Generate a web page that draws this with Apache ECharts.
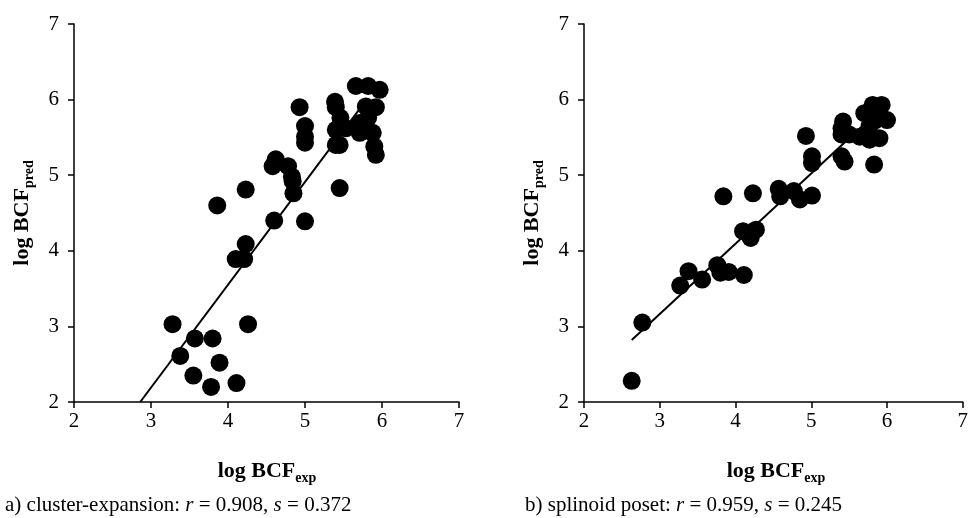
<!DOCTYPE html>
<html><head><meta charset="utf-8">
<script src="https://cdn.jsdelivr.net/npm/echarts@6/dist/echarts.min.js"></script>
<style>html,body{margin:0;padding:0;background:#fff}#c{width:971px;height:518px}</style>
</head><body><div id="c"></div>
<script>
// ---- data ----
const axisMin = 2, axisMax = 7, axisStep = 1;
const xTitle = 'log BCF', xSub = 'exp';
const yTitle = 'log BCF', ySub = 'pred';
const captionA = ['a) cluster-expansion: ', 'r', ' = 0.908, ', 's', ' = 0.372'];
const captionB = ['b) splinoid poset: ', 'r', ' = 0.959, ', 's', ' = 0.245'];

const pointsA = [
  [3.28,3.03],[3.57,2.84],[3.80,2.84],[3.38,2.61],[3.89,2.52],[3.55,2.35],[3.78,2.20],[4.11,2.25],
  [4.26,3.03],[4.10,3.89],[4.21,3.89],[4.23,4.09],[3.86,4.60],[4.23,4.81],[4.60,4.40],[5.00,4.39],
  [5.45,4.83],[4.85,4.76],[4.84,4.92],[4.83,4.98],[4.78,5.12],[4.62,5.21],[4.58,5.12],[5.00,5.43],
  [5.00,5.51],[5.00,5.65],[4.93,5.90],[5.39,5.97],[5.40,5.90],[5.40,5.40],[5.45,5.40],[5.40,5.60],
  [5.46,5.76],[5.53,5.62],[5.66,6.18],[5.82,6.18],[5.97,6.13],[5.92,5.90],[5.79,5.91],[5.82,5.76],
  [5.88,5.56],[5.71,5.56],[5.90,5.38],[5.92,5.27],[5.75,5.65],[5.71,5.69]
];
const fitA = [[2.86,2.00],[5.80,6.00]];

const pointsB = [
  [2.63,2.28],[2.77,3.05],[3.27,3.54],[3.38,3.73],[3.56,3.62],[3.76,3.81],[3.80,3.71],[3.91,3.72],
  [4.11,3.68],[3.84,4.72],[4.23,4.76],[4.10,4.26],[4.20,4.17],[4.27,4.28],[4.57,4.82],[4.59,4.72],
  [4.77,4.79],[4.85,4.68],[5.01,4.73],[4.93,5.52],[5.01,5.25],[5.01,5.16],[5.40,5.25],[5.44,5.18],
  [5.83,5.14],[5.42,5.71],[5.40,5.62],[5.40,5.54],[5.50,5.54],[5.64,5.51],[5.77,5.47],[5.90,5.49],
  [5.70,5.82],[5.81,5.93],[5.93,5.93],[6.00,5.73],[5.85,5.73],[5.77,5.65]
];
const fitB = [[2.63,2.82],[5.75,5.72]];

// ---- chart ----
const FONT = 'Liberation Serif';
const axisLineStyle = {color:'#000', width:1.5};
function xAxisCfg(gi){
  return {gridIndex:gi, type:'value', min:axisMin, max:axisMax, interval:axisStep,
    axisLine:{show:true, onZero:false, lineStyle:axisLineStyle},
    axisTick:{show:true, inside:false, length:6, lineStyle:axisLineStyle},
    splitLine:{show:false},
    axisLabel:{fontFamily:FONT, fontSize:21, color:'#000', margin:9}};
}
function yAxisCfg(gi){
  return {gridIndex:gi, type:'value', min:axisMin, max:axisMax, interval:axisStep,
    axisLine:{show:true, onZero:false, lineStyle:axisLineStyle},
    axisTick:{show:true, inside:false, length:6, lineStyle:axisLineStyle},
    splitLine:{show:false},
    axisLabel:{fontFamily:FONT, fontSize:21, color:'#000', margin:15}};
}
const titleRich = {
  m:{fontFamily:FONT, fontSize:22, fontWeight:'bold', color:'#000', lineHeight:24},
  s:{fontFamily:FONT, fontSize:14, fontWeight:'bold', color:'#000', padding:[14,0,0,0]}
};
const capRich = {
  n:{fontFamily:FONT, fontSize:21, color:'#000'},
  i:{fontFamily:FONT, fontSize:21, fontStyle:'italic', color:'#000'}
};
function capText(parts){
  return parts.map((p,k)=> (k===1||k===3) ? '{i|'+p+'}' : '{n|'+p+'}').join('');
}
function titleText(main, sub){ return '{m|'+main+'}{s|'+sub+'}'; }

const chart = echarts.init(document.getElementById('c'), null, {renderer:'canvas'});
chart.setOption({
  animation:false,
  backgroundColor:'#fff',
  grid:[
    {left:74, top:24, width:385, height:378},
    {left:584, top:24, width:384, height:378}
  ],
  xAxis:[xAxisCfg(0), xAxisCfg(1)],
  yAxis:[yAxisCfg(0), yAxisCfg(1)],
  series:[
    {type:'line', xAxisIndex:0, yAxisIndex:0, data:fitA, showSymbol:false, symbol:'none',
      lineStyle:{color:'#000', width:2}, z:1},
    {type:'scatter', xAxisIndex:0, yAxisIndex:0, data:pointsA, symbol:'circle', symbolSize:18,
      itemStyle:{color:'#000', opacity:1}, z:2},
    {type:'line', xAxisIndex:1, yAxisIndex:1, data:fitB, showSymbol:false, symbol:'none',
      lineStyle:{color:'#000', width:2}, z:1},
    {type:'scatter', xAxisIndex:1, yAxisIndex:1, data:pointsB, symbol:'circle', symbolSize:18,
      itemStyle:{color:'#000', opacity:1}, z:2}
  ],
  graphic:[
    {type:'text', x:267, y:471, style:{text:titleText(xTitle,xSub), rich:titleRich, align:'center', verticalAlign:'middle'}},
    {type:'text', x:776, y:471, style:{text:titleText(xTitle,xSub), rich:titleRich, align:'center', verticalAlign:'middle'}},
    {type:'text', x:22, y:213, rotation:Math.PI/2, style:{text:titleText(yTitle,ySub), rich:titleRich, align:'center', verticalAlign:'middle'}},
    {type:'text', x:532, y:213, rotation:Math.PI/2, style:{text:titleText(yTitle,ySub), rich:titleRich, align:'center', verticalAlign:'middle'}},
    {type:'text', x:5, y:505, style:{text:capText(captionA), rich:capRich, align:'left', verticalAlign:'middle'}},
    {type:'text', x:525, y:505, style:{text:capText(captionB), rich:capRich, align:'left', verticalAlign:'middle'}}
  ]
});
</script></body></html>
